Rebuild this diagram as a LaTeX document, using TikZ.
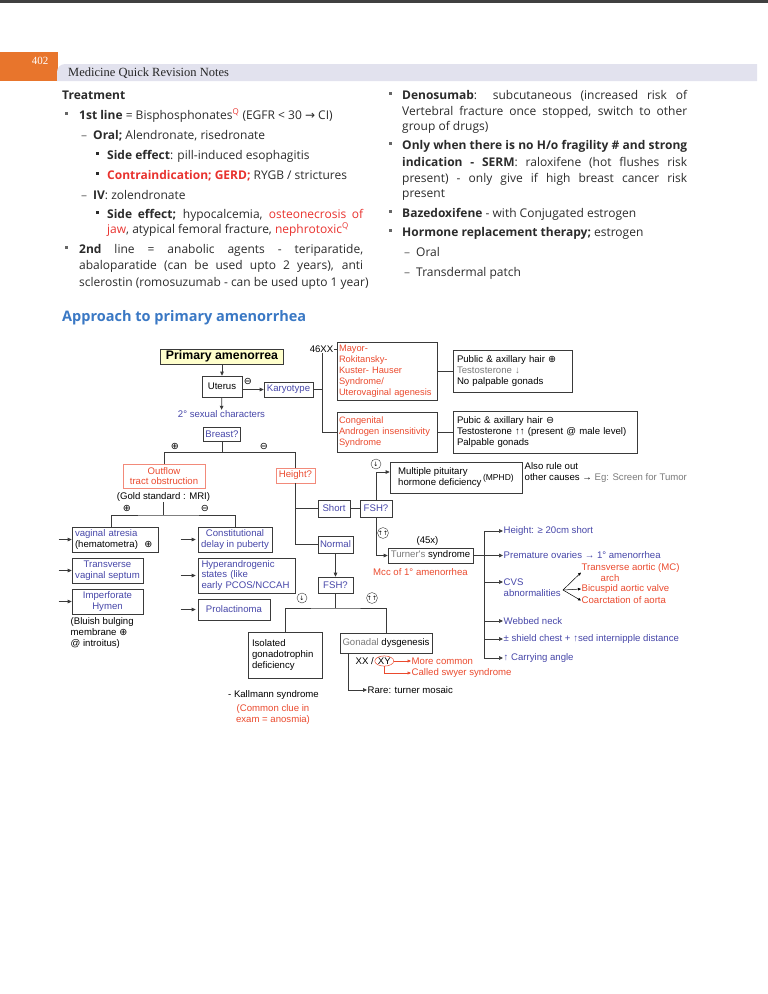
\documentclass[tikz,border=0pt]{standalone}
\usepackage{fontspec}
\usetikzlibrary{arrows.meta,shapes.geometric}
\setmainfont{Open Sans}
\newfontfamily\dgfont{Liberation Sans}
\newfontfamily\symfont{DejaVu Sans}
\newfontfamily\hdfont{Liberation Serif}
\definecolor{txt}{HTML}{2B2B2B}
\definecolor{redtxt}{HTML}{E8322E}
\definecolor{dgblue}{HTML}{4646A8}
\definecolor{dgred}{HTML}{EA4A2E}
\definecolor{dggray}{HTML}{7A7A7A}
\definecolor{boxline}{HTML}{3A3A3A}
\definecolor{pinkline}{HTML}{F28A7A}
\definecolor{primfill}{HTML}{FFFFCC}
\definecolor{hdorange}{HTML}{E8752C}
\definecolor{hdband}{HTML}{E2E2EE}
\definecolor{titleblue}{HTML}{3A78C4}
\newcommand\body{\fontsize{12}{16}\selectfont}
\newcommand\dg{\dgfont\fontsize{9.6}{10.8}\selectfont}
\newcommand\cplus{{\symfont ⊕}}
\newcommand\cminus{{\symfont ⊖}}
\newcommand\rarr{{\symfont →}}
\tikzset{
  lt/.style={anchor=base west, inner sep=0pt, font=\body, text=txt},
  box/.style={draw=boxline, line width=0.7pt, inner sep=1.5pt, font=\dg, align=center},
  bbox/.style={box, text=dgblue},
  rbox/.style={box, draw=pinkline, text=dgred},
  lbl/.style={inner sep=0.5pt, font=\dg},
  ln/.style={line width=0.7pt, draw=boxline},
  arr/.style={line width=0.7pt, draw=boxline, -{Triangle[length=4pt,width=3.6pt]}},
  fanarr/.style={line width=0.5pt, -{Triangle[length=3pt,width=2.6pt]}},
  redarr/.style={line width=0.5pt, draw=dgred, -{Triangle[length=3.5pt,width=3pt]}, dgred},
  circ/.style={circle, draw=boxline, line width=0.4pt, minimum size=10pt, inner sep=0pt,
    font=\symfont\fontsize{6}{6}\selectfont}
}
\begin{document}
\begin{tikzpicture}[x=1pt,y=-1pt]
\useasboundingbox (0,0) rectangle (768,994);
% page header
\fill[black!75] (0,0) rectangle (768,3);
\fill[hdorange] (0,52) rectangle (58,81);
\fill[hdband] (57,81) [rounded corners=8pt] -- (57,64) [sharp corners] -- (757,64) -- (757,81) -- cycle;
\node[font=\hdfont\fontsize{11}{11}\selectfont, text=white] (pgno) at (40,60.5) {402};
\node[anchor=base west, inner sep=0pt, font=\hdfont\fontsize{12.5}{12.5}\selectfont, text=black!85] (hdtext) at (68,76.5) {Medicine Quick Revision Notes};

% left column
\node[lt, font=\body\bfseries] (treat) at (62,99) {Treatment};
\node[lt] (l1) at (79,119) {\textbf{1st line} = Bisphosphonates\textsuperscript{\color{redtxt}Q} (EGFR < 30 \rarr{} CI)};
\node[lt] (l2) at (93,139) {\textbf{Oral;} Alendronate, risedronate};
\node[lt] (l3) at (107,159) {\textbf{Side effect}: pill-induced esophagitis};
\node[lt] (l4) at (107,179) {{\color{redtxt}\textbf{Contraindication; GERD;}} RYGB / strictures};
\node[lt] (l5) at (93,199) {\textbf{IV}: zolendronate};
\node[lt] (l6) at (107,218) {\makebox[256pt][s]{\textbf{Side effect;} hypocalcemia, {\color{redtxt}osteonecrosis of}}};
\node[lt] (l7) at (107,233) {{\color{redtxt}jaw}, atypical femoral fracture, {\color{redtxt}nephrotoxic\textsuperscript{Q}}};
\node[lt] (l8) at (79,253) {\makebox[284pt][s]{\textbf{2nd} line = anabolic agents - teriparatide,}};
\node[lt] (l9) at (79,269) {\makebox[284pt][s]{abaloparatide (can be used upto 2 years), anti}};
\node[lt] (l10) at (79,286) {sclerostin (romosuzumab - can be used upto 1 year)};

% right column
\node[lt] (r1) at (402,99) {\makebox[285pt][s]{\textbf{Denosumab}: subcutaneous (increased risk of}};
\node[lt] (r2) at (402,115) {\makebox[285pt][s]{Vertebral fracture once stopped, switch to other}};
\node[lt] (r3) at (402,130) {group of drugs)};
\node[lt] (r4) at (402,149) {\makebox[285pt][s]{\textbf{Only when there is no H/o fragility \# and strong}}};
\node[lt] (r5) at (402,166) {\makebox[285pt][s]{\textbf{indication - SERM}: raloxifene (hot flushes risk}};
\node[lt] (r6) at (402,182) {\makebox[285pt][s]{present) - only give if high breast cancer risk}};
\node[lt] (r7) at (402,197) {present};
\node[lt] (r8) at (402,217) {\textbf{Bazedoxifene} - with Conjugated estrogen};
\node[lt] (r9) at (402,236) {\textbf{Hormone replacement therapy;} estrogen};
\node[lt] (r10) at (416,256) {Oral};
\node[lt] (r11) at (416,276) {Transdermal patch};

% bullets and dashes
\foreach \x/\y in {65/119,65/253,389/99,389/149,389/217,389/236}
  \fill[black!60] (\x,\y-7) rectangle ++(3.4,3.4);
\foreach \y in {159,179,218}
  \fill[txt] (96,\y-7) rectangle ++(3.4,3.4);
\foreach \x/\y in {81/139,81/199,404/256,404/276}
  \node[lt, text=black!60] at (\x,\y) {–};

\node[anchor=base west, inner sep=0pt, font=\fontsize{14.5}{16}\selectfont\bfseries, text=titleblue] (apptitle) at (62,321) {Approach to primary amenorrhea};

% flowchart
\node[box, font=\dgfont\bfseries\fontsize{12.3}{13}\selectfont, fill=primfill, minimum width=123pt, minimum height=15pt] (prim) at (222,356.5) {Primary amenorrea};
\node[box, minimum width=40pt, minimum height=21pt] (uterus) at (222,386.5) {Uterus};
\node[bbox, minimum width=49pt, minimum height=15pt] (karyo) at (288.5,389.5) {Karyotype};
\node[lbl, text=dgblue] (sexchar) at (221.5,414) {2° sexual characters};
\node[bbox, minimum width=37pt, minimum height=14pt] (breast) at (222,434) {Breast?};
\node[box, text=dgred, align=left, text width=96pt, inner xsep=2pt, minimum height=58pt, font=\dgfont\fontsize{9.3}{10.9}\selectfont] (mrkh) at (387,371) {Mayor-\\Rokitansky-\\Kuster- Hauser\\Syndrome/\\Uterovaginal agenesis};
\node[box, text=dgred, align=left, text width=96pt, inner xsep=2pt, minimum height=40pt, font=\dgfont\fontsize{9.3}{10.6}\selectfont] (ais) at (387,432) {Congenital\\Androgen insensitivity\\Syndrome};
\node[box, align=left, text width=111pt, inner xsep=4pt, minimum height=42pt] (pub1) at (512.5,371) {Public \& axillary hair \cplus\\{\color{dggray}Testosterone ↓}\\No palpable gonads};
\node[box, align=left, text width=176pt, inner xsep=4pt, minimum height=42pt] (pub2) at (545,432) {Pubic \& axillary hair \cminus\\Testosterone ↑↑ (present @ male level)\\Palpable gonads};

\draw[arr] (prim) -- (uterus);
\draw[arr] (uterus.east |- karyo.west) -- (karyo.west);
\node[lbl] (umin) at (248,381) {\cminus};
\draw[arr] (uterus) -- (sexchar);
\coordinate (ktop) at (322,349);
\coordinate (kbot) at (322,432);
\draw[ln] (karyo.east) -- (karyo.east -| ktop);
\draw[ln] (ktop -| mrkh.west) -- (ktop) -- (kbot) -- (ais.west);
\node[lbl, fill=white] (xx46) at (321.5,349) {46XX};
\draw[ln] (mrkh.east) -- (pub1.west);
\draw[ln] (ais.east) -- (pub2.west);

% breast branches
\node[rbox, minimum width=82pt, minimum height=24pt] (outflow) at (164,476) {Outflow\\tract obstruction};
\node[rbox, minimum width=39pt, minimum height=15pt] (height) at (295.5,475.5) {Height?};
\draw[ln] (breast.south) -- ++(0,12);
\draw[ln] (outflow.north) -- ++(0,-11) -| (height.north);
\node[lbl] (bplus) at (175,446) {\cplus};
\node[lbl] (bminus) at (264,446) {\cminus};

\node[lbl] (gold) at (163.5,497) {(Gold standard : MRI)};
\node[lbl] (gplus) at (127,508) {\cplus};
\node[lbl] (gminus) at (205,508) {\cminus};
\node[box, align=left, text width=80pt, inner xsep=3pt, minimum height=25pt] (vag) at (115,539.5) {{\color{dgblue}vaginal atresia}\\(hematometra)\ \ \cplus};
\node[bbox, minimum width=71pt, minimum height=25pt] (trans) at (107.5,570.5) {Transverse\\vaginal septum};
\node[bbox, minimum width=71pt, minimum height=25pt] (imperf) at (107.5,601.5) {Imperforate\\Hymen};
\node[lbl, align=left, anchor=north west] (bluish) at (70,617) {(Bluish bulging\\membrane \cplus\\@ introitus)};
\node[bbox, minimum width=74pt, minimum height=25pt] (const) at (235,539.5) {Constitutional\\delay in puberty};
\node[bbox, align=left, text width=90pt, inner xsep=3.5pt, minimum height=35pt] (hyper) at (246.5,575.5) {Hyperandrogenic\\states (like\\early PCOS/NCCAH};
\node[bbox, minimum width=72pt, minimum height=21pt] (prolac) at (234,609.5) {Prolactinoma};
\coordinate (gsplit) at (163.5,515);
\draw[ln] (gold.south) -- (gsplit);
\draw[ln] ([xshift=-4pt]vag.north) |- (gsplit) -| (const.north);
\foreach \n in {vag,trans,imperf}
  \draw[arr] ([xshift=-13pt]\n.west) -- (\n.west);
\foreach \n in {const,hyper,prolac}
  \draw[arr] ([xshift=-17pt]\n.west) -- ([xshift=-2pt]\n.west);

% height branch
\node[bbox, minimum width=32pt, minimum height=17pt] (short) at (334,508.5) {Short};
\node[bbox, minimum width=35pt, minimum height=17pt] (normal) at (335.5,544.5) {Normal};
\node[bbox, minimum width=32pt, minimum height=17pt] (fsha) at (376,508.5) {FSH?};
\node[bbox, minimum width=35pt, minimum height=16pt] (fshb) at (335.5,585) {FSH?};
\draw[ln] (height.south) |- (normal.west);
\draw[ln] (height.south |- short.west) -- (short.west);
\draw[ln] (short.east) -- (fsha.west);
\draw[arr] (normal.south) -- (fshb.north);

\node[box, minimum width=132pt, minimum height=31pt] (mphd) at (456,477.5) {\begin{tabular}{@{}l@{}}Multiple pituitary\\hormone deficiency\end{tabular}\,{\fontsize{8.5}{9}\selectfont(MPHD)}};
\node[lbl, align=left, anchor=west] (also) at (524,472.5) {Also rule out\\other causes → {\color{dggray}Eg: Screen for Tumor}};
\node[box, minimum width=85pt, minimum height=15pt] (turner) at (430.5,555.5) {{\color{dggray}Turner's} syndrome};
\node[lbl] (x45) at (427.5,541) {(45x)};
\node[lbl, text=dgred] (mcc) at (420.5,572) {Mcc of 1° amenorrhea};
\draw[arr] (fsha.north) |- ([yshift=5.5pt]mphd.west);
\draw[arr] (fsha.south) |- (turner.west);
\node[circ] (cdown1) at (376,464) {↓};
\node[circ] (cup1) at (383,533) {↑↑};

% Turner features
\coordinate (ttop) at (484,531);
\coordinate (tbot) at (484,658);
\node[lbl, anchor=west, text=dgblue] (ht20) at (503,531) {Height: ≥ 20cm short};
\node[lbl, anchor=west, text=dgblue] (prem) at (503,555.5) {Premature ovaries → 1° amenorrhea};
\node[lbl, anchor=west, text=dgblue, align=left] (cvs) at (503,587.5) {CVS\\abnormalities};
\node[lbl, anchor=west, text=dgblue] (webbed) at (503,621) {Webbed neck};
\node[lbl, anchor=west, text=dgblue] (shield) at (503,639) {± shield chest + ↑sed internipple distance};
\node[lbl, anchor=west, text=dgblue] (carry) at (503,658) {↑ Carrying angle};
\coordinate (cvsin) at ([yshift=5.5pt]cvs.west);
\draw[ln] (ttop) -- (tbot);
\draw[arr] (ttop) -- (ht20.west);
\draw[arr] (turner.east) -- (prem.west);
\draw[arr] (cvsin -| ttop) -- (cvsin);
\draw[arr] (webbed.west -| ttop) -- (webbed.west);
\draw[arr] (shield.west -| ttop) -- (shield.west);
\draw[arr] (tbot) -- (carry.west);

\coordinate (fan) at (563,590);
\node[lbl, anchor=west, text=dgred, align=left] (aor1) at (581,572.5) {Transverse aortic (MC)\\\hspace*{19pt}arch};
\node[lbl, anchor=west, text=dgred] (aor2) at (581,589) {Bicuspid aortic valve};
\node[lbl, anchor=west, text=dgred] (aor3) at (581,600.5) {Coarctation of aorta};
\foreach \n in {aor1,aor2,aor3}
  \draw[fanarr] (fan) -- (\n.west);

% second FSH
\node[box, align=left, text width=66pt, inner xsep=4pt, minimum height=46pt] (isolated) at (285,655) {Isolated\\gonadotrophin\\deficiency};
\node[box, minimum width=92pt, minimum height=20pt] (gonadal) at (386,643) {{\color{dggray}Gonadal} dysgenesis};
\coordinate (fsplit) at (335.5,608);
\draw[ln] (fshb.south) -- (fsplit);
\draw[ln] (isolated.north) |- (fsplit) -| (gonadal.north);
\node[circ] (cdown2) at (302,598) {↓};
\node[circ] (cup2) at (372,598) {↑↑};
\node[lbl] (kall) at (273.5,695) {- Kallmann syndrome};
\node[lbl, text=dgred, align=center] (clue) at (273,714.5) {(Common clue in\\exam = anosmia)};

\node[lbl, anchor=west] (xxs) at (355,661) {XX /};
\node[ellipse, draw=dgred, line width=0.5pt, inner sep=0.3pt, font=\dg, anchor=west] (xy) at (xxs.east) {XY};
\node[lbl, anchor=west, text=dgred] (more) at (411,661) {More common};
\node[lbl, anchor=west, text=dgred] (swyer) at (411,673) {Called swyer syndrome};
\node[lbl, anchor=west] (rare) at (367,690) {Rare: turner mosaic};
\draw[redarr] (xy.east) -- (more.west);
\draw[redarr] (xy.south) |- (swyer.west);
\draw[arr] ([xshift=-38pt]gonadal.south) |- (rare.west);
\end{tikzpicture}
\end{document}
